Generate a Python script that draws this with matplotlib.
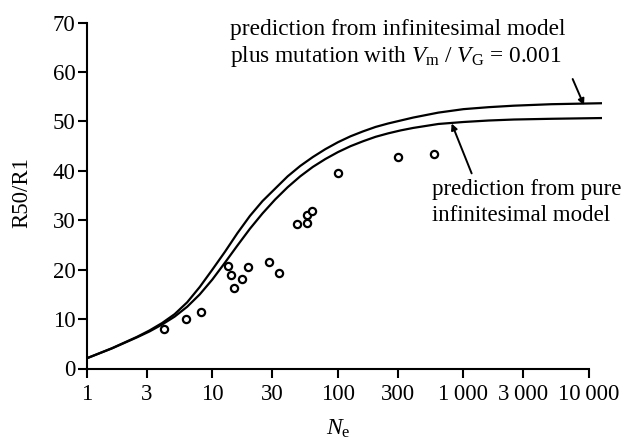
import matplotlib
matplotlib.use("Agg")
import matplotlib.pyplot as plt
import numpy as np

plt.rcParams['font.family'] = ['Liberation Serif', 'DejaVu Serif']
plt.rcParams['mathtext.fontset'] = 'custom'
plt.rcParams['mathtext.rm'] = 'Liberation Serif'
plt.rcParams['mathtext.it'] = 'Liberation Serif:italic'

# data: observed points
obs_ne = [4.15, 6.2, 8.2, 13.3, 14.1, 15.0, 17.2, 19.4, 28.4, 34.0,
          47.5, 56.5, 56.5, 62.2, 99.6, 299, 582]
obs_r = [7.9, 10.1, 11.5, 20.7, 19.0, 16.2, 18.1, 20.5, 21.6, 19.3,
         29.3, 29.4, 31.0, 31.9, 39.6, 42.9, 43.5]

# prediction curves at these Ne values
curve_ne = [1, 1.585, 2.512, 3.162, 3.981, 5.012, 6.31, 7.943, 10, 12.59,
            15.85, 19.95, 25.12, 31.62, 39.81, 50.12, 63.1, 79.43, 100, 125.9,
            158.5, 199.5, 251.2, 316.2, 398.1, 631, 1000, 1585, 2512, 5012, 12740]
# infinitesimal model plus mutation
mut_r = [2.06, 4.1, 6.4, 7.7, 9.2, 11.0, 13.4, 16.5, 20.0, 23.6,
         27.4, 30.9, 33.9, 36.4, 38.9, 41.0, 42.8, 44.4, 45.8, 47.0,
         48.0, 48.9, 49.6, 50.2, 50.8, 51.8, 52.5, 52.9, 53.2, 53.5, 53.7]
# pure infinitesimal model
inf_r = [2.06, 4.05, 6.3, 7.5, 8.9, 10.5, 12.5, 15.0, 18.0, 21.4,
         24.9, 28.3, 31.4, 34.2, 36.7, 38.9, 40.8, 42.4, 43.8, 45.0,
         46.0, 46.9, 47.6, 48.2, 48.7, 49.5, 49.9, 50.2, 50.4, 50.55, 50.7]

xticks = [1, 3, 10, 30, 100, 300, 1000, 3000, 10000]
xticklabels = ['1', '3', '10', '30', '100', '300', '1\u2009000', '3\u2009000', '10\u2009000']
yticks = [0, 10, 20, 30, 40, 50, 60, 70]

W, H = 633, 441
fig = plt.figure(figsize=(W / 100, H / 100), dpi=100)
ax = fig.add_axes([86.7 / W, 1 - 368.5 / H, (602.3 - 86.7) / W, (368.5 - 22.7) / H])

ax.plot(curve_ne, mut_r, color='black', lw=1.6, solid_capstyle='butt')
ax.plot(curve_ne, inf_r, color='black', lw=1.6, solid_capstyle='butt')
ax.plot(obs_ne, obs_r, linestyle='none', marker='o', markersize=5.2,
        markerfacecolor='white', markeredgecolor='black', markeredgewidth=1.6)

ax.set_xscale('log')
ax.set_xlim(1, 12740)
ax.set_ylim(0, 70)
ax.set_xticks(xticks)
ax.set_xticklabels(xticklabels)
ax.xaxis.set_minor_locator(matplotlib.ticker.NullLocator())
ax.set_yticks(yticks)
ax.spines['top'].set_visible(False)
ax.spines['right'].set_visible(False)
ax.spines['bottom'].set_bounds(1, 10000)
for s in ('left', 'bottom'):
    ax.spines[s].set_linewidth(1.5)
ax.tick_params(axis='both', direction='out', length=6.5, width=1.5,
               labelsize=16.5, color='black', labelcolor='black')
ax.tick_params(axis='y', pad=1.5)
ax.tick_params(axis='x', pad=5)

fig.text(22 / W, 1 - 193 / H, 'R50/R1', rotation=90, ha='center', va='center', fontsize=16.5)
fig.text(338 / W, 1 - 429 / H, r'$N_\mathrm{e}$', ha='center', va='center', fontsize=17)

fs = 16.8
fig.text(230 / W, 1 - 35 / H, 'prediction from infinitesimal model', ha='left',
         va='baseline', fontsize=fs)
fig.text(230 / W, 1 - 62 / H, r'plus mutation with $V_\mathrm{m}$ / $V_\mathrm{G}$ = 0.001',
         ha='left', va='baseline', fontsize=fs)
fig.text(432 / W, 1 - 195 / H, 'prediction from pure', ha='left', va='baseline', fontsize=16.5)
fig.text(432 / W, 1 - 221 / H, 'infinitesimal model', ha='left', va='baseline', fontsize=16.5)

ap = dict(arrowstyle='-|>', mutation_scale=9, lw=1.4, color='black', shrinkA=0, shrinkB=0)
ax.annotate('', xy=(9107, 53.3), xytext=(7400, 58.6), arrowprops=ap)
ax.annotate('', xy=(805, 49.6), xytext=(1161, 39.5), arrowprops=ap)

fig.savefig('out.png', dpi=100, facecolor='white')
